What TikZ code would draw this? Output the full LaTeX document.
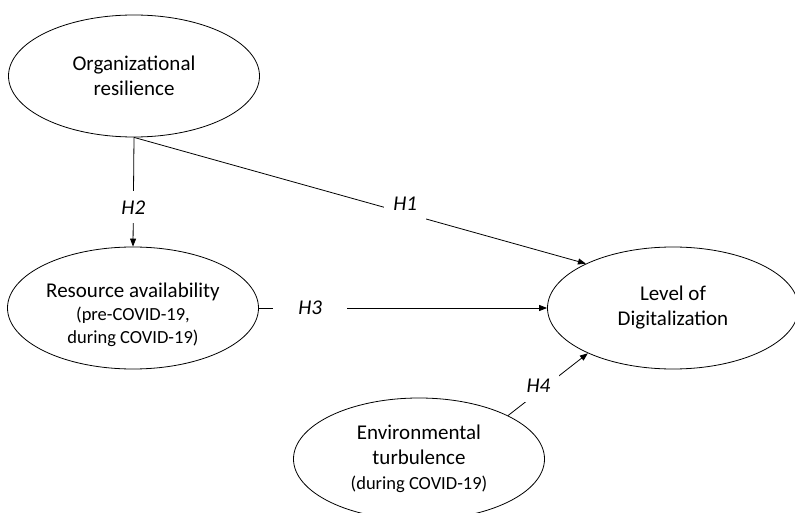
\documentclass[tikz,border=0pt]{standalone}
\usepackage{fontspec}
\setmainfont{Carlito}
\usetikzlibrary{arrows.meta}
\usetikzlibrary{shapes.geometric}

\newcommand{\subtext}{\fontsize{18.5}{22}\selectfont}

\begin{document}
\begin{tikzpicture}[x=1pt,y=-1pt,
    construct/.style={draw,ellipse,line width=0.8pt,minimum width=251pt,minimum height=122pt,
      inner sep=0pt,align=center,font=\fontsize{21}{25}\selectfont},
    link/.style={line width=0.8pt,-{Triangle[length=8pt,width=6pt]}},
    hyp/.style={fill=white,inner sep=9pt,font=\fontsize{21}{25}\selectfont\itshape}]

        % Frame
        \useasboundingbox (0,0) rectangle (795,513);

        % Constructs
        \node[construct] (org) at (134,76) {Organizational\\resilience};
        \node[construct,label={[align=center,font=\fontsize{21}{23}\selectfont,yshift=-7pt]center:Resource availability\\\subtext (pre-COVID-19,\\\subtext during COVID-19)}] (res) at (133,308) {};
        \node[construct] (dig) at (673,308) {Level of\\Digitalization};
        \node[construct] (env) at (419,459) {Environmental\\turbulence\\\subtext (during COVID-19)};

        % Hypotheses
        \draw[link] (org.south) -- node[hyp,pos=0.64] {H2} (res.north);
        \draw[link] (org.south) -- node[hyp,pos=0.6,yshift=9pt] {H1} (dig.153);
        \draw[link] (res.east) -- node[hyp,pos=0.185,inner xsep=25pt,xshift=-2pt] {H3} (dig.west);
        \draw[link] (env.26) -- node[hyp,pos=0.38,yshift=6pt] {H4} (dig.208);
    \end{tikzpicture}
\end{document}
